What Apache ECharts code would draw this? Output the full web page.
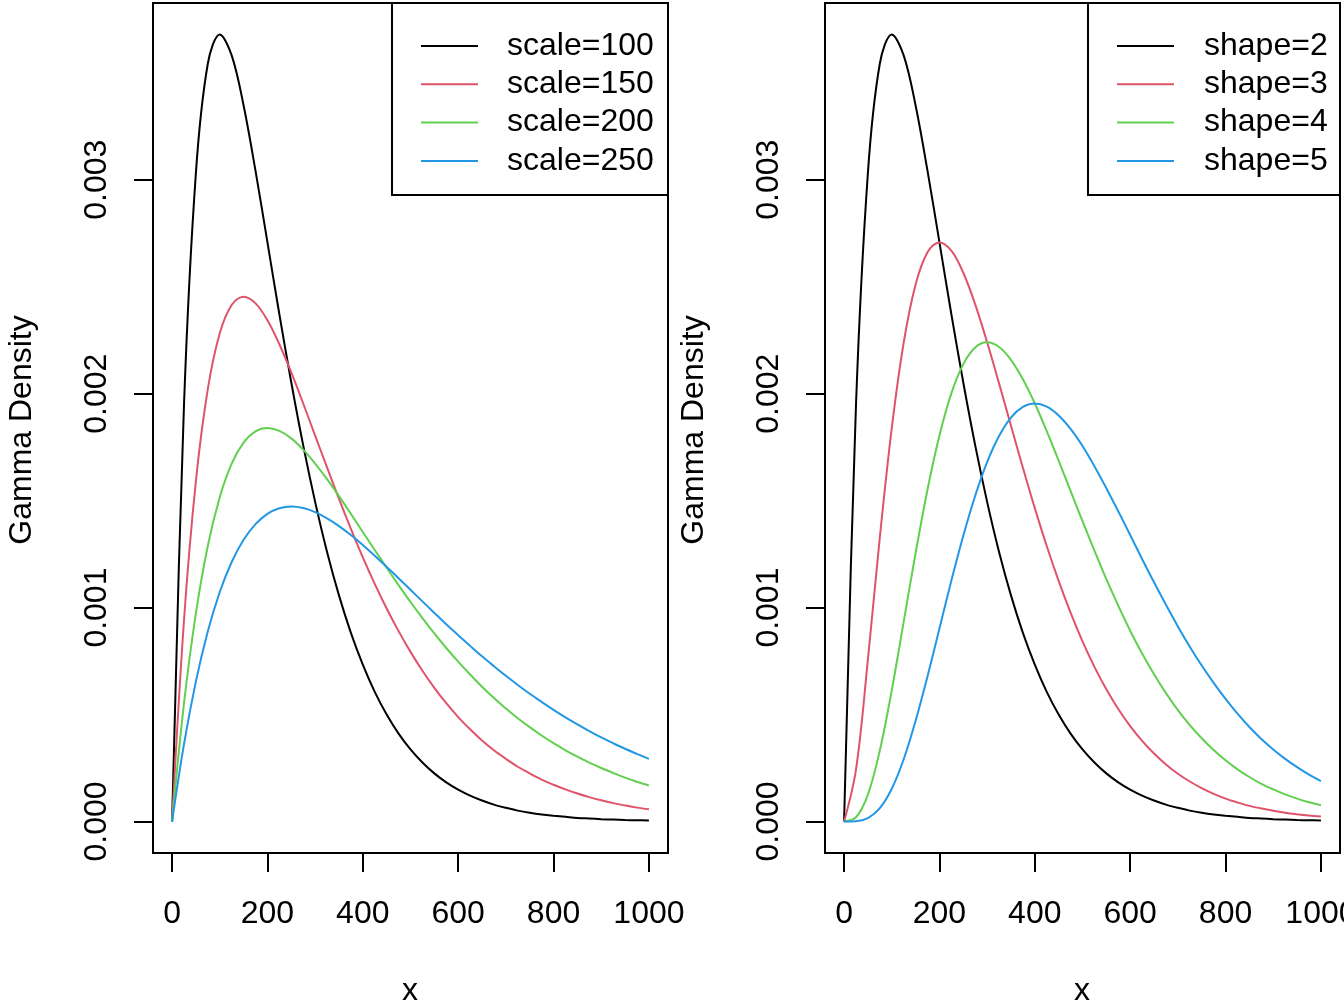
<!DOCTYPE html>
<html>
<head>
<meta charset="utf-8">
<script src="https://cdn.jsdelivr.net/npm/echarts@6/dist/echarts.min.js"></script>
<style>
html,body{margin:0;padding:0;background:#fff;}
#c{width:1344px;height:1008px;}
</style>
</head>
<body>
<div id="c"></div>
<script>
// x grid (same for all curves)
const xs = [0,25,50,75,100,125,150,175,200,225,250,275,300,325,350,375,400,425,450,475,500,
            525,550,575,600,625,650,675,700,725,750,775,800,825,850,875,900,925,950,975,1000];

// Left panel: shape = 2, varying scale
const scaleNames = ['scale=100','scale=150','scale=200','scale=250'];
const scale100 = [0,0.001947,0.003033,0.003543,0.003679,0.003581,0.003347,0.003041,0.002707,0.002371,0.002052,
  0.001758,0.001494,0.001260,0.001057,0.000882,0.000733,0.000606,0.000500,0.000411,0.000337,
  0.000276,0.000225,0.000183,0.000149,0.000121,0.000098,0.000079,0.000064,0.000051,0.000041,
  0.000033,0.000027,0.000022,0.000017,0.000014,0.000011,0.000009,0.000007,0.000006,0.000005];
const scale150 = [0,0.000941,0.001592,0.002022,0.002282,0.002414,0.002453,0.002422,0.002343,0.002231,0.002099,
  0.001954,0.001804,0.001655,0.001508,0.001368,0.001235,0.001111,0.000996,0.000890,0.000793,
  0.000705,0.000625,0.000553,0.000488,0.000431,0.000379,0.000333,0.000293,0.000256,0.000225,
  0.000196,0.000172,0.000150,0.000131,0.000114,0.000099,0.000086,0.000075,0.000065,0.000057];
const scale200 = [0,0.000552,0.000974,0.001289,0.001516,0.001673,0.001771,0.001824,0.001839,0.001826,0.001791,
  0.001738,0.001673,0.001600,0.001521,0.001438,0.001353,0.001269,0.001186,0.001105,0.001026,
  0.000951,0.000879,0.000811,0.000747,0.000687,0.000630,0.000577,0.000528,0.000483,0.000441,
  0.000402,0.000366,0.000333,0.000303,0.000275,0.000250,0.000227,0.000205,0.000186,0.000168];
const scale250 = [0,0.000362,0.000655,0.000889,0.001073,0.001213,0.001317,0.001390,0.001438,0.001464,0.001472,
  0.001465,0.001446,0.001417,0.001381,0.001339,0.001292,0.001242,0.001190,0.001137,0.001083,
  0.001029,0.000975,0.000922,0.000871,0.000821,0.000772,0.000726,0.000681,0.000638,0.000597,
  0.000559,0.000522,0.000487,0.000454,0.000423,0.000393,0.000366,0.000340,0.000316,0.000293];

// Right panel: scale = 100, varying shape
const shapeNames = ['shape=2','shape=3','shape=4','shape=5'];
const shape2 = scale100.slice();
const shape3 = [0,0.000243,0.000758,0.001329,0.001839,0.002238,0.002510,0.002661,0.002707,0.002668,0.002565,
  0.002417,0.002240,0.002048,0.001850,0.001654,0.001465,0.001288,0.001125,0.000976,0.000842,
  0.000723,0.000618,0.000526,0.000446,0.000377,0.000318,0.000267,0.000223,0.000187,0.000156,
  0.000129,0.000107,0.000089,0.000073,0.000061,0.000050,0.000041,0.000034,0.000028,0.000023];
const shape4 = [0,0.000020,0.000126,0.000332,0.000613,0.000933,0.001255,0.001552,0.001804,0.002001,0.002138,
  0.002216,0.002240,0.002218,0.002158,0.002067,0.001954,0.001825,0.001687,0.001545,0.001404,
  0.001266,0.001133,0.001009,0.000892,0.000785,0.000688,0.000600,0.000521,0.000451,0.000389,
  0.000334,0.000286,0.000244,0.000208,0.000176,0.000150,0.000127,0.000107,0.000090,0.000076];
const shape5 = [0,0.0000013,0.0000158,0.0000623,0.000153,0.000291,0.000471,0.000679,0.000902,0.001126,0.001336,
  0.001523,0.001680,0.001802,0.001888,0.001938,0.001954,0.001939,0.001898,0.001835,0.001755,
  0.001661,0.001558,0.001450,0.001339,0.001227,0.001118,0.001013,0.000912,0.000817,0.000729,
  0.000648,0.000573,0.000504,0.000442,0.000386,0.000337,0.000293,0.000254,0.000219,0.000189];

const xTicks = [0,200,400,600,800,1000];
const yTicks = [0,0.001,0.002,0.003];
const colors = ['#000000','#DF536B','#61D04F','#2297E6'];

const FONT = '"Liberation Sans", Arial, sans-serif';
const yMin = -0.00014715, yMax = 0.0038259;

function xAxisDef(gi){
  return {
    type:'value', gridIndex:gi, min:-40, max:1040, position:'bottom',
    axisLine:{show:false, onZero:false}, splitLine:{show:false},
    axisTick:{show:true, inside:false, customValues:xTicks, length:19, lineStyle:{color:'#000', width:2}},
    axisLabel:{show:true, customValues:xTicks, color:'#000', fontSize:32, fontFamily:FONT, margin:45,
      formatter:v => String(v)}
  };
}
function yAxisDef(gi){
  return {
    type:'value', gridIndex:gi, min:yMin, max:yMax, position:'left',
    axisLine:{show:false, onZero:false}, splitLine:{show:false},
    axisTick:{show:true, inside:false, customValues:yTicks, length:19, lineStyle:{color:'#000', width:2}},
    axisLabel:{show:true, customValues:yTicks, color:'#000', fontSize:32, fontFamily:FONT, margin:40,
      rotate:90, formatter:v => v.toFixed(3)}
  };
}
function mk(name, ys, color, gi){
  return {
    type:'line', name:name, xAxisIndex:gi, yAxisIndex:gi,
    data: xs.map((x,i)=>[x, ys[i]]),
    showSymbol:false, symbol:'none', smooth:0.35,
    lineStyle:{color:color, width:2}, itemStyle:{color:color},
    animation:false, silent:true
  };
}

const leftSeries = [scale100, scale150, scale200, scale250];
const rightSeries = [shape2, shape3, shape4, shape5];
const series = [];
leftSeries.forEach((s,i)=>series.push(mk(scaleNames[i], s, colors[i], 0)));
rightSeries.forEach((s,i)=>series.push(mk(shapeNames[i], s, colors[i], 1)));

function legendDef(names, left, gap){
  return {
    data:names, orient:'vertical', left:left, top:27, padding:0, itemGap:0.3,
    icon:'rect', itemWidth:57, itemHeight:2, selectedMode:false,
    textStyle:{color:'#000', fontSize:32, fontFamily:FONT, lineHeight:38, padding:[0,0,0,gap]}
  };
}

const chart = echarts.init(document.getElementById('c'), null, {renderer:'canvas'});
chart.setOption({
  backgroundColor:'#fff',
  animation:false,
  grid:[
    {left:153, top:3, width:515, height:850, show:true, borderColor:'#000', borderWidth:2, backgroundColor:'transparent', containLabel:false, outerBoundsMode:'none'},
    {left:825, top:3, width:515, height:850, show:true, borderColor:'#000', borderWidth:2, backgroundColor:'transparent', containLabel:false, outerBoundsMode:'none'}
  ],
  xAxis:[xAxisDef(0), xAxisDef(1)],
  yAxis:[yAxisDef(0), yAxisDef(1)],
  legend:[legendDef(scaleNames, 421, 24), legendDef(shapeNames, 1117, 25)],
  series:series,
  graphic:[
    {type:'rect', shape:{x:392, y:3, width:276, height:192}, style:{fill:'transparent', stroke:'#000', lineWidth:2}, z:10},
    {type:'rect', shape:{x:1088, y:3, width:252, height:192}, style:{fill:'transparent', stroke:'#000', lineWidth:2}, z:10},
    {type:'text', x:22, y:430, rotation:Math.PI/2, style:{text:'Gamma Density', fill:'#000', font:'32px '+FONT, textAlign:'center', textVerticalAlign:'middle'}},
    {type:'text', x:694, y:430, rotation:Math.PI/2, style:{text:'Gamma Density', fill:'#000', font:'32px '+FONT, textAlign:'center', textVerticalAlign:'middle'}},
    {type:'text', x:410, y:991, style:{text:'x', fill:'#000', font:'32px '+FONT, textAlign:'center', textVerticalAlign:'middle'}},
    {type:'text', x:1082, y:991, style:{text:'x', fill:'#000', font:'32px '+FONT, textAlign:'center', textVerticalAlign:'middle'}}
  ]
});
</script>
</body>
</html>
